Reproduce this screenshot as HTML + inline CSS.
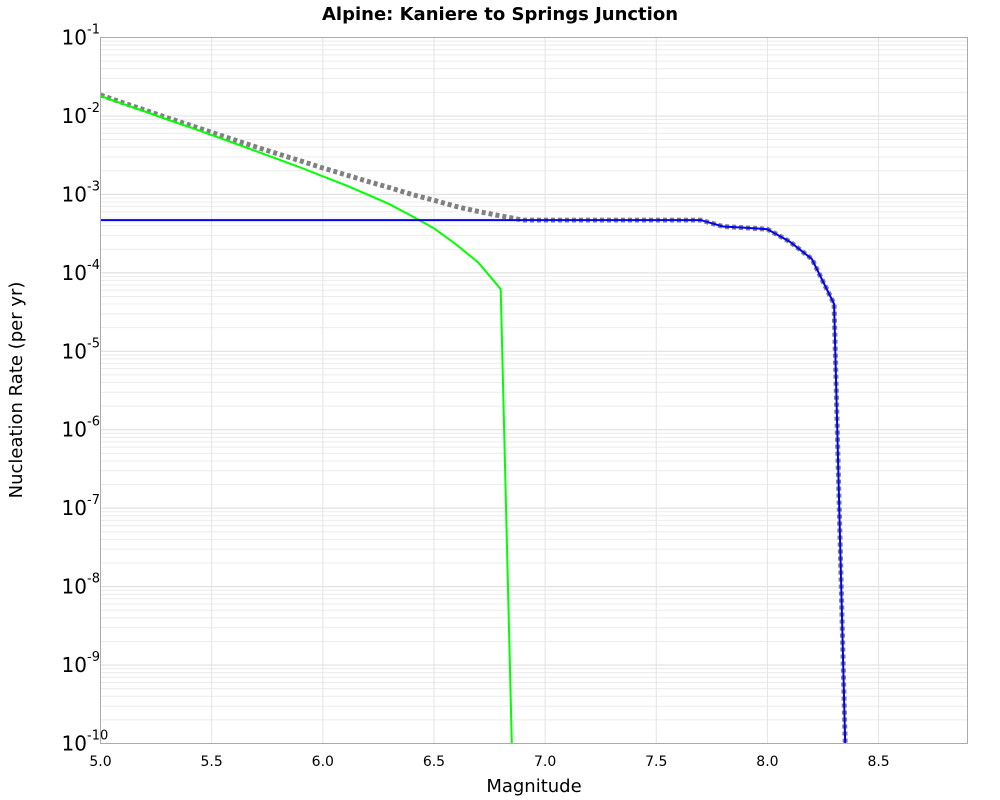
<!DOCTYPE html>
<html><head><meta charset="utf-8"><style>
html,body{margin:0;padding:0;background:#fff;}
svg{display:block;font-family:"DejaVu Sans","Liberation Sans",sans-serif;}
</style></head><body>
<svg id="chart" width="1000" height="800" viewBox="0 0 1000 800" xmlns="http://www.w3.org/2000/svg">
<text x="500" y="20" text-anchor="middle" font-size="18" font-weight="bold" fill="#000">Alpine: Kaniere to Springs Junction</text>
<text x="534" y="792" text-anchor="middle" font-size="18" fill="#000">Magnitude</text>
<text transform="translate(22,390) rotate(-90)" text-anchor="middle" font-size="18" fill="#000">Nucleation Rate (per yr)</text>
<g id="grid"></g>
<g id="series"></g>
<rect x="100.5" y="37.5" width="867" height="706" fill="none" stroke="#aaa" stroke-width="1"/>
<g id="ticks"></g>
</svg>
<script>
const xTicks = [5.0,5.5,6.0,6.5,7.0,7.5,8.0,8.5];
const xTickLabels = ["5.0","5.5","6.0","6.5","7.0","7.5","8.0","8.5"];
const yExps = [-1,-2,-3,-4,-5,-6,-7,-8,-9,-10];
const greenMags = [5.0,5.1,5.2,5.3,5.4,5.5,5.6,5.7,5.8,5.9,6.0,6.1,6.2,6.3,6.4,6.5,6.6,6.7,6.8,6.85];
const greenRates = [1.8e-2,1.43e-2,1.14e-2,9.0e-3,7.2e-3,5.7e-3,4.5e-3,3.55e-3,2.8e-3,2.2e-3,1.7e-3,1.32e-3,1.0e-3,7.5e-4,5.3e-4,3.7e-4,2.3e-4,1.35e-4,6.2e-5,1e-10];
const blueMags = [5.0,7.7,7.8,7.9,8.0,8.1,8.2,8.3,8.35];
const blueRates = [4.7e-4,4.7e-4,3.9e-4,3.75e-4,3.6e-4,2.5e-4,1.5e-4,4.0e-5,1e-10];

const X0=100.5,X1=967.5,Y0=37.5,Y1=743.5,XMIN=5.0,XMAX=8.9,LMAX=-1,LMIN=-10;
const xs=m=>X0+(m-XMIN)/(XMAX-XMIN)*(X1-X0);
const ys=v=>Y0+(LMAX-Math.log10(v))/(LMAX-LMIN)*(Y1-Y0);
const NS="http://www.w3.org/2000/svg";
function mk(tag,attrs,parent){const e=document.createElementNS(NS,tag);for(const k in attrs)e.setAttribute(k,attrs[k]);parent.appendChild(e);return e;}
const grid=document.getElementById('grid'),ticks=document.getElementById('ticks'),series=document.getElementById('series');
for(let e=-10;e<-1;e++){for(let k=1;k<10;k++){const v=k*Math.pow(10,e);const y=ys(v);
const l=mk('line',{x1:X0,x2:X1,y1:y,y2:y,stroke:k===1?'#dcdcdc':'#ececec','stroke-width':1},grid);

}}
xTicks.forEach((m,i)=>{const x=xs(m);
const l=mk('line',{x1:x,x2:x,y1:Y0,y2:Y1,stroke:'#e4e4e4','stroke-width':1},grid);


const t=mk('text',{x:x,y:766,'text-anchor':'middle','font-size':14,fill:'#000'},ticks);t.textContent=xTickLabels[i];

});
yExps.forEach(e=>{const y=ys(Math.pow(10,e));
const t=mk('text',{x:87,y:y+7,'text-anchor':'end','font-size':20,fill:'#000'},ticks);t.textContent='10';


const s=mk('text',{x:87,y:y-4,'text-anchor':'start','font-size':13,fill:'#000'},ticks);s.textContent=String(e);

});
function interp(ms,vs,m){if(m<ms[0]||m>ms[ms.length-1])return 0;for(let i=0;i<ms.length-1;i++){if(m>=ms[i]&&m<=ms[i+1]){const t=(m-ms[i])/(ms[i+1]-ms[i]);return Math.pow(10,Math.log10(vs[i])*(1-t)+Math.log10(vs[i+1])*t);}}return vs[vs.length-1];}
const totMags=[...new Set([...greenMags.filter(m=>m<=6.8),6.9,...blueMags])].sort((a,b)=>a-b);
const totRates=totMags.map(m=>interp(greenMags.slice(0,-1),greenRates.slice(0,-1),m)+interp(blueMags,blueRates,m));
mk('clipPath',{id:'pc'},series).appendChild(document.createElementNS(NS,'rect'));
const cr=series.querySelector('#pc rect');cr.setAttribute('x',X0);cr.setAttribute('y',Y0);cr.setAttribute('width',X1-X0);cr.setAttribute('height',Y1-Y0);
function path(ms,vs){return ms.map((m,i)=>(i?'L':'M')+xs(m).toFixed(1)+','+ys(vs[i]).toFixed(1)).join(' ');}
const g=mk('path',{d:path(totMags,totRates),fill:'none',stroke:'#808080','stroke-width':5,'stroke-dasharray':'4 3','clip-path':'url(#pc)'},series);


const gr=mk('path',{d:path(greenMags,greenRates),fill:'none',stroke:'#00ff00','stroke-width':2,'clip-path':'url(#pc)'},series);


const b=mk('path',{d:path(blueMags,blueRates),fill:'none',stroke:'#0000ff','stroke-width':2,'clip-path':'url(#pc)'},series);


</script>
</body></html>
